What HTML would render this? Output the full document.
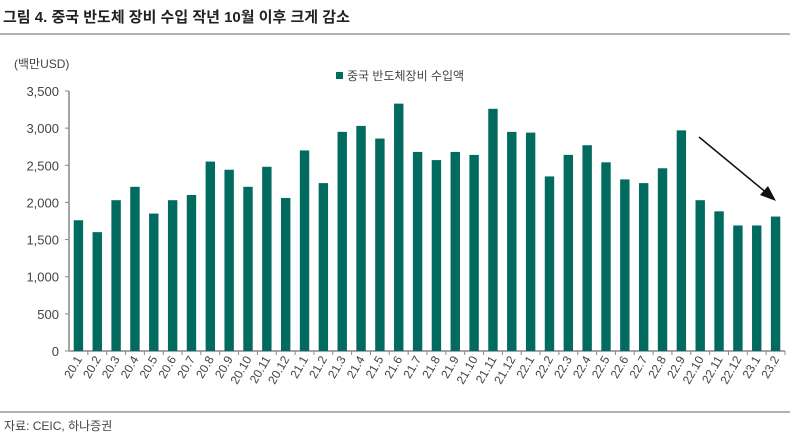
<!DOCTYPE html>
<html><head><meta charset="utf-8"><style>
body{margin:0;background:#fff;width:790px;height:440px;overflow:hidden;font-family:"Liberation Sans","Noto Sans CJK KR",sans-serif}
</style></head><body>
<svg width="790" height="440" xmlns="http://www.w3.org/2000/svg">
<text x="3" y="22" font-size="15" font-weight="bold" fill="#222" font-family="Liberation Sans, Noto Sans CJK KR, sans-serif">그림 4. 중국 반도체 장비 수입 작년 10월 이후 크게 감소</text>
<line x1="0" y1="34" x2="790" y2="34" stroke="#999" stroke-width="1.5"/>
<text x="14" y="68" font-size="12" fill="#444" font-family="Liberation Sans, Noto Sans CJK KR, sans-serif">(백만USD)</text>
<g>
<rect x="336" y="72" width="7" height="7" fill="#006b5e"/>
<text x="347" y="80" font-size="12" fill="#444" font-family="Liberation Sans, Noto Sans CJK KR, sans-serif">중국 반도체장비 수입액</text>
</g>
<g id="plot"></g>
<g>
<line x1="699" y1="137" x2="768" y2="194" stroke="#111" stroke-width="1.5"/>
<polygon points="776,201 760,195 768,186" fill="#111"/>
</g>
<line x1="0" y1="412" x2="790" y2="412" stroke="#999" stroke-width="1.5"/>
<text x="4" y="430" font-size="12" fill="#444" font-family="Liberation Sans, Noto Sans CJK KR, sans-serif">자료: CEIC, 하나증권</text>
</svg>
<script>
const categories=["20.1","20.2","20.3","20.4","20.5","20.6","20.7","20.8","20.9","20.10","20.11","20.12","21.1","21.2","21.3","21.4","21.5","21.6","21.7","21.8","21.9","21.10","21.11","21.12","22.1","22.2","22.3","22.4","22.5","22.6","22.7","22.8","22.9","22.10","22.11","22.12","23.1","23.2"];
const values=[1760,1600,2030,2210,1850,2030,2100,2550,2440,2210,2480,2060,2700,2260,2950,3030,2860,3330,2680,2570,2680,2640,3260,2950,2940,2350,2640,2770,2540,2310,2260,2460,2970,2030,1880,1690,1690,1810];
const yTicks=[0,500,1000,1500,2000,2500,3000,3500];
const NS="http://www.w3.org/2000/svg";
const g=document.getElementById('plot');
const x0=69,x1=785,yTop=91,yBot=351,yMax=3500;
const step=(x1-x0)/categories.length;
const y=v=>yBot-v/yMax*(yBot-yTop);
function mk(t,a){const e=document.createElementNS(NS,t);for(const k in a)e.setAttribute(k,a[k]);g.appendChild(e);return e;}
const ax=mk('line',{x1:x0,y1:yTop,x2:x0,y2:yBot,stroke:'#888','stroke-width':1.5});


const bx=mk('line',{x1:x0,y1:yBot,x2:x1,y2:yBot,stroke:'#888','stroke-width':1.5});


yTicks.forEach(v=>{
 const t=mk('line',{x1:x0-4,y1:y(v),x2:x0,y2:y(v),stroke:'#888'});
 
 
 const l=mk('text',{x:x0-10,y:y(v)+5,'font-size':13,fill:'#444','text-anchor':'end'});
 l.textContent=v.toLocaleString('en-US');
 
 
});
categories.forEach((c,i)=>{
 const cx=x0+step*(i+0.5);
 const r=mk('rect',{x:cx-4.7,y:y(values[i]),width:9.4,height:yBot-y(values[i]),fill:'#006b5e'});
 
 
 const t=mk('line',{x1:x0+step*(i+1),y1:yBot,x2:x0+step*(i+1),y2:yBot+4,stroke:'#888'});
 
 
 const l=mk('text',{x:cx+4,y:yBot+8,'font-size':12,fill:'#444','text-anchor':'end',transform:`rotate(-60 ${cx+4} ${yBot+8})`});
 l.textContent=c;
 
 
});
</script>
</body></html>
